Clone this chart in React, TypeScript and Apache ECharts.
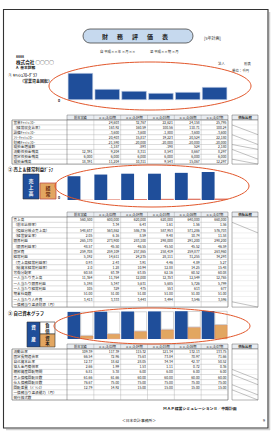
import React, { useEffect, useRef } from "react";
import * as echarts from "echarts";

const FONT = '"Noto Sans CJK JP", "Noto Sans", sans-serif';

// ---------- data ----------
const periods = ["前年実績", "××/3/03期", "××/3/04期", "××/3/05期", "××/3/06期", "××/3/07期"];

const cashFlowBars = [18391, 7493, 6131, 4768, 5450, 8857];
const salesValues = [560500, 600000, 620000, 620000, 640000, 660000];
const ordinaryProfit = [5192, 14611, 24235, 28111, 31255, 34293];
const totalAssets = [281000, 283000, 285000, 286000, 288000, 290000];
const equityValues = [34760, 52690, 79940, 98210, 122030, 146510];
const liabilityValues = [246240, 230310, 205060, 187790, 165970, 143490];

const cfLabels = ["営業ｷｬｯｼｭﾌﾛｰ", "（経常収支比率）", "設備ｷｬｯｼｭﾌﾛｰ", "ﾌﾘｰｷｬｯｼｭﾌﾛｰ", "財務ｷｬｯｼｭﾌﾛｰ", "現預金増減額", "流動性預金残高", "固定性預金残高", "現預金残高"];
const cfValues = [
  ["", "24,603", "32,767", "22,621", "24,158", "25,795"],
  ["", "163.92", "160.59", "100.56", "110.71", "100.24"],
  ["", "-3,600", "-3,600", "-1,800", "-3,600", "-3,600"],
  ["", "20,403", "15,817", "19,223", "20,524", "22,180"],
  ["", "-21,590", "-20,000", "-20,000", "-20,000", "-20,000"],
  ["", "-1,187", "-893", "-198", "524", "2,180"],
  ["12,391", "9,204", "8,311", "8,543", "8,667", "8,297"],
  ["6,000", "6,000", "6,000", "6,000", "6,000", "6,000"],
  ["18,391", "11,204", "10,311", "9,543", "15,067", "12,297"],
];

const plLabels = ["売上高", "（前年比伸率）", "（損益分岐点売上高）", "（経営安全率）", "限界利益", "（限界利益率）", "固定費", "経常利益", "（売上高経常利益率）", "（総資本経常利益率）", "労働分配率", "一人当たり売上高", "一人当たり限界利益", "一人当たり経常利益", "期末社員数", "一人当たり人件費", "一債務当り返済財源（月）"];
const plValues = [
  ["560,500", "600,000", "620,000", "620,000", "640,000", "660,000"],
  ["", "3.34", "6.43", "1.61", "1.56", "1.56"],
  ["548,637", "563,862", "586,736", "587,953", "571,286", "576,703"],
  ["2.05", "6.16", "8.59", "9.48", "10.74", "11.58"],
  ["265,170", "273,900", "283,100", "298,000", "291,200", "298,200"],
  ["48.57", "45.50", "46.55", "45.50", "45.52", "46.59"],
  ["259,708", "259,109", "257,865", "258,419", "259,877", "263,960"],
  ["5,192", "14,611", "24,235", "28,111", "31,255", "34,293"],
  ["0.93", "2.43", "3.91", "4.46", "4.89", "5.27"],
  ["2.0", "1.28", "10.94", "12.88", "14.25", "15.48"],
  ["60.58", "63.39", "63.85", "62.16", "60.52", "60.08"],
  ["11,364", "11,764", "12,000", "12,353", "12,549", "12,765"],
  ["5,198", "5,347", "5,631", "5,685", "5,726", "5,799"],
  ["105", "329", "475", "553", "613", "677"],
  ["51.00", "51.00", "51.00", "51.00", "51.00", "51.00"],
  ["3,413", "3,333", "3,443", "3,494", "3,546", "3,596"],
  ["", "", "", "", "", ""],
];

const bsLabels = ["流動比率", "固定長期適合率", "自己資本比率", "借入金月商倍率", "棚卸資産回転期間", "売上債権回転日数", "仕入債務回転日数", "回転差異（ﾊﾞﾗﾝｽ）", "一債務当り返済能力（月）", "発行株式数"];
const bsValues = [
  ["109.39", "117.39", "115.32", "121.34", "132.13", "133.75"],
  ["66.54", "72.96", "75.63", "73.84", "70.97", "71.66"],
  ["12.37", "18.62", "28.05", "34.34", "42.37", "50.52"],
  ["2.66", "1.99", "1.53", "1.11", "0.72", "0.36"],
  ["6.81", "5.38", "6.00", "6.00", "6.00", "6.00"],
  ["61.66", "61.66", "60.00", "60.00", "60.00", "60.00"],
  ["76.67", "75.00", "75.00", "75.00", "75.00", "75.00"],
  ["12.79", "14.92", "15.00", "15.00", "15.00", "15.00"],
  ["", "", "", "", "", ""],
  ["", "", "", "", "", ""],
];

// ---------- helpers ----------
const BLUE = "#1f4e9a";
const ORANGE = "#e2a661";

function T(text: string, x: number, y: number, size: number, o: any = {}) {
  const align = o.align || "left";
  return {
    type: "text",
    x,
    y,
    z: 60,
    silent: true,
    style: {
      text,
      fontSize: size,
      fontFamily: FONT,
      fontWeight: o.bold ? "bold" : "normal",
      fill: o.color || "#222",
      align,
      textAlign: align,
      verticalAlign: "middle",
      textVerticalAlign: "middle",
    },
  };
}
function L(x1: number, y1: number, x2: number, y2: number, stroke: string, lineWidth: number) {
  return { type: "line", z: 40, silent: true, shape: { x1, y1, x2, y2 }, style: { stroke, lineWidth } };
}
function R(x: number, y: number, width: number, height: number, fill: string, stroke: string, lineWidth: number, r = 0) {
  return { type: "rect", z: 30, silent: true, shape: { x, y, width, height, r }, style: { fill, stroke, lineWidth } };
}
function E(cx: number, cy: number, rx: number, ry: number) {
  return { type: "ellipse", z: 100, silent: true, shape: { cx, cy, rx, ry }, style: { fill: "none", stroke: "#e2572b", lineWidth: 1 } };
}

const COL0 = 67;
const COLW = 161 / 6;
const LABEL_X = 12;

function table(top: number, headerH: number, rowH: number, labels: string[], values: string[][]) {
  const els: any[] = [];
  const right = COL0 + 6 * COLW;
  els.push(R(COL0, top, 6 * COLW, headerH, "#e8ecf1", "#777", 0.5));
  periods.forEach((p, i) => {
    els.push(T(p, COL0 + (i + 0.5) * COLW, top + headerH / 2, 3.2, { align: "center" }));
    if (i > 0) els.push(L(COL0 + i * COLW, top, COL0 + i * COLW, top + headerH, "#999", 0.4));
  });
  const bt = top + headerH;
  const bh = labels.length * rowH;
  els.push(R(LABEL_X, bt, right - LABEL_X, bh, "#fff", "#555", 0.6));
  for (let r = 1; r < labels.length; r++) {
    els.push(L(LABEL_X, bt + r * rowH, right, bt + r * rowH, "#aaa", 0.4));
  }
  els.push(L(COL0, bt, COL0, bt + bh, "#666", 0.5));
  for (let i = 1; i < 6; i++) els.push(L(COL0 + i * COLW, bt, COL0 + i * COLW, bt + bh, "#aaa", 0.4));
  labels.forEach((lab, r) => {
    const y = bt + (r + 0.5) * rowH;
    els.push(T(lab, LABEL_X + 1.5, y, 3.6));
    values[r].forEach((v, i) => {
      if (v) els.push(T(v, COL0 + (i + 1) * COLW - 1.5, y, 3.4, { align: "right" }));
    });
  });
  return els;
}

function compare(top: number, headerH: number, rowH: number, n: number, diags: number[][]) {
  const els: any[] = [];
  const x = 232, w = 26;
  els.push(R(x, top, w, headerH, "#e8ecf1", "#666", 0.5));
  els.push(T("他社比較", x + w / 2, top + headerH / 2, 3.4, { align: "center", bold: true }));
  const bt = top + headerH;
  els.push(R(x, bt, w, n * rowH, "#fff", "#666", 0.5));
  for (let r = 1; r < n; r++) els.push(L(x, bt + r * rowH, x + w, bt + r * rowH, "#ccc", 0.3));
  diags.forEach(([a, b]) => els.push(L(x, bt + a * rowH, x + w, bt + b * rowH, "#666", 0.4)));
  return els;
}

export default function App() {
  const ref = useRef<HTMLDivElement>(null);
  useEffect(() => {
    if (!ref.current) return;
    const chart = echarts.init(ref.current, null, { renderer: "svg", width: 273, height: 431 });

    const els: any[] = [];
    // page frame + shadow
    els.push(L(6, 429.5, 270, 429.5, "#cfcfcf", 1.5));
    els.push(L(269.5, 12, 269.5, 430, "#cfcfcf", 1.5));
    els.push({ type: "rect", z: 45, silent: true, shape: { x: 3.5, y: 9.5, width: 264.5, height: 418.5 }, style: { fill: "none", stroke: "#333", lineWidth: 1.1 } });

    // title
    els.push(R(83, 29, 110, 14, "#c6d9ee", "#444", 0.8, 7));
    ["財", "務", "評", "価", "表"].forEach((c, i) => els.push(T(c, 105 + i * 15, 36, 6, { align: "center", bold: true })));
    els.push(T("[5年計画]", 204, 38, 4));
    els.push(T("自 平成××年 ×月××", 100, 51, 3.4));
    els.push(T("至 平成××期 ×月", 150, 51, 3.4));
    els.push(T("8888", 16, 56, 3.4, { bold: true }));
    els.push(T("株式会社 ○○○○", 16, 61.5, 4.6, { bold: true }));
    els.push(T("A  基本財務", 16, 67.5, 3.8, { bold: true }));
    els.push(T("法人", 218, 63, 3.4));
    els.push(T("別表", 244, 63, 3.4));
    els.push(T("単位：千円", 232, 70, 3.4));

    // section 1
    els.push(T("① ｷｬｯｼｭﾌﾛｰｸﾞﾗﾌ", 8, 74.5, 4, { bold: true }));
    els.push(T("（営業資金回転）", 20, 80.5, 4, { bold: true }));
    els.push(T("0", 58, 100, 3.6, { bold: true }));
    els.push(E(150, 86, 101, 24));
    els.push(...table(115, 5, 4.9, cfLabels, cfValues));
    els.push(...compare(115, 5, 4.9, cfLabels.length, [[1, 3], [3, 5], [5, 6], [6, 8], [8, 9]]));

    // section 2
    els.push(T("② 売上＆経常利益ｸﾞﾗﾌ", 8, 168.5, 4.4, { bold: true }));
    els.push(R(23, 174, 16, 25, BLUE, "#333", 0.6));
    ["売", "上", "高"].forEach((c, i) => els.push(T(c, 31, 180 + i * 6.3, 5, { align: "center", color: "#fff", bold: true })));
    els.push(R(40, 183, 16, 16, ORANGE, "#c0504d", 0.8));
    ["経", "常"].forEach((c, i) => els.push(T(c, 48, 187.5 + i * 6.3, 5, { align: "center", color: "#6b2a10", bold: true })));
    els.push(T("0", 58, 197, 3.6, { bold: true }));
    els.push(E(152, 186, 97, 21));
    els.push(...table(212, 5, 5.3, plLabels, plValues));
    els.push(...compare(212, 5, 5.3, plLabels.length, [[1, 3], [16, 17]]));

    // section 3
    els.push(T("③ 自己資本グラフ", 8, 313, 4.4, { bold: true }));
    els.push(R(27, 322, 13, 25, BLUE, "#333", 0.6));
    els.push(T("資", 33.5, 326.5, 4.6, { align: "center", color: "#fff", bold: true }));
    els.push(T("産", 33.5, 339, 4.6, { align: "center", color: "#fff", bold: true }));
    els.push(R(40, 322, 15, 12, "#fff", "#333", 0.6));
    els.push(T("負", 47.5, 325.3, 4.4, { align: "center", bold: true }));
    els.push(T("債", 47.5, 330.5, 4.4, { align: "center", bold: true }));
    els.push(R(40, 334, 15, 13, ORANGE, "#333", 0.6));
    els.push(T("資", 47.5, 337.8, 4.4, { align: "center", bold: true }));
    els.push(T("本", 47.5, 343.2, 4.4, { align: "center", bold: true }));
    els.push(E(152, 326, 98, 18));
    els.push(...table(344, 5, 5.1, bsLabels, bsValues));
    els.push(...compare(344, 5, 5.1, bsLabels.length, [[4, 6], [5, 7], [7, 9], [8, 10]]));

    // footer
    els.push(T("ＭＡＰ経営シミュレーションⅡ／中期計画", 163, 408, 3.9, { bold: true }));
    els.push(T("＜日本会計事務所＞", 139, 420, 3.8, { align: "center" }));
    els.push(T("9", 264, 420, 3.8, { align: "center" }));

    const grid = (top: number, height: number) => ({ left: COL0, top, width: 161, height });
    const xa = (i: number) => ({ type: "category", gridIndex: i, data: periods, show: false });

    chart.setOption({
      animation: false,
      grid: [grid(73, 27), grid(172, 28), grid(311, 28)],
      xAxis: [xa(0), xa(1), xa(2)],
      yAxis: [
        { type: "value", gridIndex: 0, min: 0, max: 18391, show: false },
        { type: "value", gridIndex: 1, min: 0, max: 660000, show: false },
        { type: "value", gridIndex: 2, min: 0, max: 290000, show: false },
      ],
      series: [
        {
          type: "bar", xAxisIndex: 0, yAxisIndex: 0, data: cashFlowBars, barCategoryGap: "6%", silent: true,
          itemStyle: { color: BLUE, borderColor: "#c8d4e8", borderWidth: 0.6 },
        },
        {
          type: "bar", xAxisIndex: 1, yAxisIndex: 1, data: salesValues, barGap: "0%", barCategoryGap: "4%", silent: true,
          itemStyle: { color: BLUE },
        },
        {
          type: "bar", xAxisIndex: 1, yAxisIndex: 1, data: ordinaryProfit, barGap: "0%", barCategoryGap: "4%", silent: true,
          itemStyle: { color: "#e07b6a" },
        },
        {
          type: "bar", xAxisIndex: 2, yAxisIndex: 2, data: totalAssets, barGap: "0%", barCategoryGap: "4%", silent: true,
          itemStyle: { color: BLUE },
        },
        {
          type: "bar", xAxisIndex: 2, yAxisIndex: 2, data: equityValues, stack: "r", barGap: "0%", barCategoryGap: "4%", silent: true,
          itemStyle: { color: ORANGE, borderColor: "#d9805a", borderWidth: 0.5 },
        },
        {
          type: "bar", xAxisIndex: 2, yAxisIndex: 2, data: liabilityValues, stack: "r", barGap: "0%", barCategoryGap: "4%", silent: true,
          itemStyle: { color: "#ffffff", borderColor: "#b8b8b8", borderWidth: 0.6 },
        },
      ],
      graphic: { elements: els },
    });
    return () => chart.dispose();
  }, []);
  return <div ref={ref} style={{ position: "fixed", left: 0, top: 0, width: 273, height: 431, background: "#fff" }} />;
}
